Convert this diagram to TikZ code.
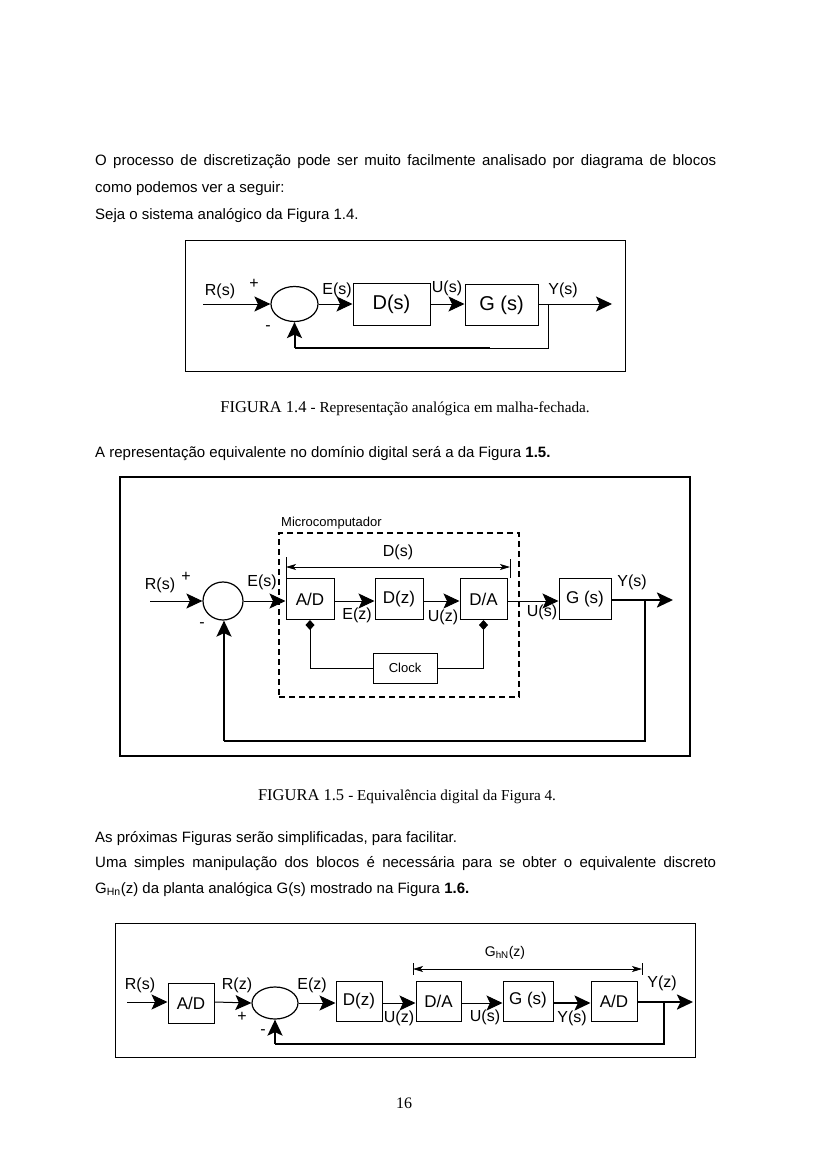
\documentclass[tikz,border=0pt]{standalone}
\usepackage{fontspec}
\setmainfont{Liberation Sans}
\newfontfamily\tms{Liberation Serif}
\usetikzlibrary{arrows.meta,shapes.geometric}
\begin{document}
\begin{tikzpicture}[x=1pt,y=-1pt,
  body/.style={anchor=base west,inner sep=0pt,font=\fontsize{15}{18}\selectfont},
  lab/.style={inner sep=0pt,font=\fontsize{16}{16}\selectfont},
  blk/.style={draw,line width=1pt,minimum height=41pt,inner sep=0pt,font=\fontsize{17}{17}\selectfont},
  sumj/.style={draw,ellipse,line width=1.2pt,inner sep=0pt},
  bigtip/.style={-{Stealth[length=16pt,width=15pt,inset=3.5pt]}},
  sig/.style={line width=1pt,bigtip},
  sigthick/.style={line width=2.5pt,bigtip},
  smalltips/.style={line width=0.8pt,{Stealth[length=10pt,width=6pt,inset=2.5pt]}-{Stealth[length=10pt,width=6pt,inset=2.5pt]}},
  diatip/.style={line width=1pt,-{Diamond[length=10pt,width=9pt]}},
  frame/.style={draw,inner sep=0pt}
]
\fill[white] (0,0) rectangle (826,1169);
\useasboundingbox (0,0) rectangle (826,1169);

% ---------------- body text ----------------
\node[body] (t1) at (95,166) {\makebox[621pt][s]{O processo de discretização pode ser muito facilmente analisado por diagrama de blocos}};
\node[body] (t2) at (95,193) {como podemos ver a seguir:};
\node[body] (t3) at (95,219) {Seja o sistema analógico da Figura 1.4.};

% ---------------- Figure 1.4 ----------------
\node[frame,line width=1pt,minimum width=440pt,minimum height=131pt] (f4) at (405,305.5) {};
\node[sumj,minimum width=47pt,minimum height=35pt] (s1) at (294.5,304) {};
\node[blk,minimum width=77pt,minimum height=42pt,font=\fontsize{20}{20}\selectfont] (d1) at (391.5,304) {D(s)};
\node[blk,minimum width=73pt,minimum height=41pt,font=\fontsize{20}{20}\selectfont] (g1) at (501.5,305) {G (s)};
\coordinate (i1) at (203,304);
\coordinate (o1) at (612,304);
\coordinate (b1) at (548,304);
\coordinate (c1) at (548,348);
\coordinate (c2) at (294.5,348);
\coordinate (c3) at (490,348);
\draw[sig] (i1) -- (s1.west);
\draw[sig] (s1.east) -- (d1.west);
\draw[sig] (d1.east) -- (d1.east -| g1.west);
\draw[sig] (g1.east |- b1) -- (o1);
\draw[line width=1pt] (b1) -- (c1) -- (c2);
\draw[line width=2.5pt] (c3) -- (c2);
\draw[line width=2pt,bigtip] (c2) -- (s1.south);
\node[lab] (l1a) at (220,291) {R(s)};
\node[lab] (l1b) at (254,284) {+};
\node[lab] (l1c) at (268,328) {-};
\node[lab] (l1d) at (337,290) {E(s)};
\node[lab] (l1e) at (447,288) {U(s)};
\node[lab] (l1f) at (563,290) {Y(s)};

\node[anchor=base,inner sep=0pt] (cap4) at (405,412) {\tms\fontsize{16.5}{16}\selectfont FIGURA 1.4 \fontsize{15.2}{16}\selectfont - Representação analógica em malha-fechada.};

\node[body] (t4) at (95,457) {A representação equivalente no domínio digital será a da Figura \textbf{1.5.}};

% ---------------- Figure 1.5 ----------------
\node[frame,line width=2pt,minimum width=570pt,minimum height=279pt] (f5) at (405,616.5) {};
\node[anchor=base west,inner sep=0pt,font=\fontsize{13}{13}\selectfont] (mc) at (281,526) {Microcomputador};
\node[frame,line width=2pt,dash pattern=on 6pt off 4pt,minimum width=240pt,minimum height=164pt] (mbox) at (399,615) {};
\node[lab] (dsl) at (398,552) {D(s)};
\coordinate (tl1) at (286,557); \coordinate (tl2) at (286,578);
\coordinate (tr1) at (510,559); \coordinate (tr2) at (510,578);
\coordinate (dl) at (286,567); \coordinate (dr) at (510,567);
\draw[line width=1pt] (tl1) -- (tl2);
\draw[line width=1pt] (tr1) -- (tr2);
\draw[smalltips] (dl) -- (dr);

\node[sumj,minimum width=40pt,minimum height=38pt] (s2) at (223,601) {};
\node[blk,minimum width=48pt] (ad) at (310,599) {A/D};
\node[blk,minimum width=48pt] (dz) at (399,599) {D(z)};
\node[blk,minimum width=47pt] (da) at (483.5,599) {D/A};
\node[blk,minimum width=52pt] (g2) at (585,599) {G (s)};
\coordinate (i2) at (150,601);
\coordinate (o2) at (673,600);
\coordinate (b2) at (645,600);
\coordinate (b2m) at (645,672);
\coordinate (b2d) at (645,741);
\coordinate (b2l) at (224,741);
\draw[sig] (i2) -- (s2.west);
\draw[sig] (s2.east) -- (s2.east -| ad.west);
\draw[sig] (ad.east |- s2.east) -- (s2.east -| dz.west);
\draw[sig] (dz.east |- s2.east) -- (s2.east -| da.west);
\draw[sig] (da.east |- s2.east) -- (s2.east -| g2.west);
\draw[sigthick] (g2.east |- o2) -- (o2);
\draw[line width=2.5pt] (b2) -- (b2m);
\draw[line width=1.2pt] (b2m) -- (b2d) -- (b2l);
\draw[line width=2pt,bigtip] (b2l) -- (b2l |- s2.south);

\node[draw,line width=1pt,minimum width=64pt,minimum height=30pt,inner sep=0pt,font=\fontsize{13}{13}\selectfont] (clk) at (405,668) {Clock};
\draw[diatip] (clk.west) -| (ad.south);
\draw[diatip] (clk.east) -| (da.south);

\node[lab] (l2a) at (160,585) {R(s)};
\node[lab] (l2b) at (186,577) {+};
\node[lab] (l2c) at (202,625) {-};
\node[lab] (l2d) at (262,582) {E(s)};
\node[lab] (l2e) at (357,615) {E(z)};
\node[lab] (l2f) at (443,617) {U(z)};
\node[lab] (l2g) at (542,612) {U(s)};
\node[lab] (l2h) at (632,582) {Y(s)};

\node[anchor=base,inner sep=0pt] (cap5) at (407,800) {\tms\fontsize{16.5}{16}\selectfont FIGURA 1.5 \fontsize{15.2}{16}\selectfont - Equivalência digital da Figura 4.};

\node[body] (t5) at (95,842) {As próximas Figuras serão simplificadas, para facilitar.};
\node[body] (t6) at (95,867) {\makebox[621pt][s]{Uma simples manipulação dos blocos é necessária para se obter o equivalente discreto}};
\node[body] (t7) at (95,893) {G\textsubscript{Hn}(z) da planta analógica G(s) mostrado na Figura \textbf{1.6.}};

% ---------------- Figure 1.6 ----------------
\node[frame,line width=1pt,minimum width=580pt,minimum height=134pt] (f6) at (405,990) {};
\node[sumj,minimum width=46pt,minimum height=32pt] (s3) at (275,1003) {};
\node[blk,minimum width=46pt,minimum height=40pt] (ad1) at (191,1003) {A/D};
\node[blk,minimum width=46pt,minimum height=40pt] (dz3) at (359,1001) {D(z)};
\node[blk,minimum width=45pt,minimum height=40pt] (da3) at (438.5,1001) {D/A};
\node[blk,minimum width=50pt,minimum height=40pt] (g3) at (528,1001) {\raisebox{5pt}{G (s)}};
\node[blk,minimum width=46pt,minimum height=40pt] (ad3) at (614,1001) {A/D};
\coordinate (i3) at (127,1002);
\coordinate (o3) at (693,1002);
\coordinate (b3) at (664,1002);
\coordinate (b3d) at (664,1044);
\coordinate (b3l) at (275,1044);
\coordinate (b3m) at (493,1044);
\draw[sig] (i3) -- (i3 -| ad1.west);
\draw[sig] (ad1.east |- i3) -- (s3.west);
\draw[sig] (s3.east) -- (s3.east -| dz3.west);
\draw[sig] (dz3.east |- s3.east) -- (s3.east -| da3.west);
\draw[sig] (da3.east |- s3.east) -- (s3.east -| g3.west);
\draw[line width=2pt,bigtip] (g3.east |- s3.east) -- (s3.east -| ad3.west);
\draw[sigthick] (ad3.east |- o3) -- (o3);
\draw[line width=1.2pt] (b3) -- (b3d) -- (b3m);
\draw[line width=2.5pt] (b3m) -- (b3l);
\draw[line width=2pt,bigtip] (b3l) -- (s3.south);

\coordinate (gl1) at (413,963); \coordinate (gl2) at (413,975);
\coordinate (gr1) at (642,963); \coordinate (gr2) at (642,975);
\coordinate (gdl) at (413,969); \coordinate (gdr) at (642,969);
\draw[line width=1pt] (gl1) -- (gl2);
\draw[line width=1pt] (gr1) -- (gr2);
\draw[smalltips] (gdl) -- (gdr);
\node[inner sep=0pt,font=\fontsize{14}{14}\selectfont] (ghn) at (505,953) {G\textsubscript{hN}(z)};

\node[lab] (l3a) at (140,985) {R(s)};
\node[lab] (l3b) at (237,985) {R(z)};
\node[lab] (l3c) at (242,1017) {+};
\node[lab] (l3d) at (263,1032) {-};
\node[lab] (l3e) at (312,985) {E(z)};
\node[lab] (l3f) at (399,1018) {U(z)};
\node[lab] (l3g) at (485,1017) {U(s)};
\node[lab] (l3h) at (572,1018) {Y(s)};
\node[lab] (l3i) at (662,983) {Y(z)};

\node[anchor=base,inner sep=0pt,font=\tms\fontsize{16}{16}\selectfont] (pg) at (404,1108) {16};
\end{tikzpicture}
\end{document}
